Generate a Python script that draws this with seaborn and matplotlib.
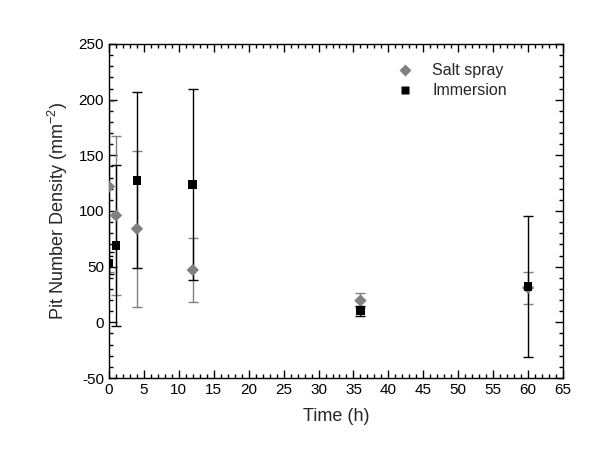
import matplotlib
matplotlib.use("Agg")
import matplotlib.pyplot as plt
import seaborn as sns
import pandas as pd
from matplotlib.ticker import MultipleLocator

time_salt = [0, 1, 4, 12, 36, 60]
salt_vals = [122, 96, 84, 47, 19.5, 31]
salt_err = [77, 71, 70, 29, 7, 14.5]

time_imm = [0, 1, 4, 12, 36, 60]
imm_vals = [53, 69, 127.5, 124, 10.5, 32]
imm_err = [10, 72, 79, 86, 4.5, 63.5]

sns.set_style("ticks")
plt.rcParams['font.family'] = ['Liberation Sans', 'DejaVu Sans']
plt.rcParams['axes.unicode_minus'] = False
plt.rcParams['mathtext.default'] = 'regular'

df = pd.DataFrame({
    "Time": time_salt + time_imm,
    "Value": salt_vals + imm_vals,
    "Series": ["Salt spray"] * len(time_salt) + ["Immersion"] * len(time_imm),
})

fig = plt.figure(figsize=(6.11, 4.51), dpi=100)
ax = fig.add_axes([109 / 611, 1 - 378 / 451, 454 / 611, 334 / 451])

ax.errorbar(time_salt, salt_vals, yerr=salt_err, fmt='none', ecolor='#808080',
            elinewidth=1, capsize=3.5, capthick=1, zorder=2)
ax.errorbar(time_imm, imm_vals, yerr=imm_err, fmt='none', ecolor='black',
            elinewidth=1, capsize=3.5, capthick=1, zorder=3)

sns.scatterplot(data=df, x="Time", y="Value", hue="Series", style="Series",
                palette={"Salt spray": "#808080", "Immersion": "black"},
                markers={"Salt spray": "D", "Immersion": "s"},
                s=40, edgecolor='none', ax=ax, zorder=4)

ax.set_xlim(0, 65)
ax.set_ylim(-50, 250)
ax.xaxis.set_major_locator(MultipleLocator(5))
ax.xaxis.set_minor_locator(MultipleLocator(1))
ax.yaxis.set_major_locator(MultipleLocator(50))
ax.yaxis.set_minor_locator(MultipleLocator(10))
ax.tick_params(which='both', direction='in', top=True, right=True, labelsize=11,
               colors='black', width=1)
ax.tick_params(which='major', length=6)
ax.tick_params(which='minor', length=3)
for sp in ax.spines.values():
    sp.set_visible(True)
    sp.set_color('black')
    sp.set_linewidth(1)

ax.set_xlabel("Time (h)", fontsize=13, labelpad=8)
ax.set_ylabel("Pit Number Density (mm$^{-2}$)", fontsize=13, labelpad=6)

leg = ax.legend(loc='upper left', bbox_to_anchor=(0.585, 0.985), frameon=False,
                fontsize=11.5, handletextpad=0.7, labelspacing=0.3, title=None,
                markerscale=0.9)
fig.savefig("out.png", dpi=100)
